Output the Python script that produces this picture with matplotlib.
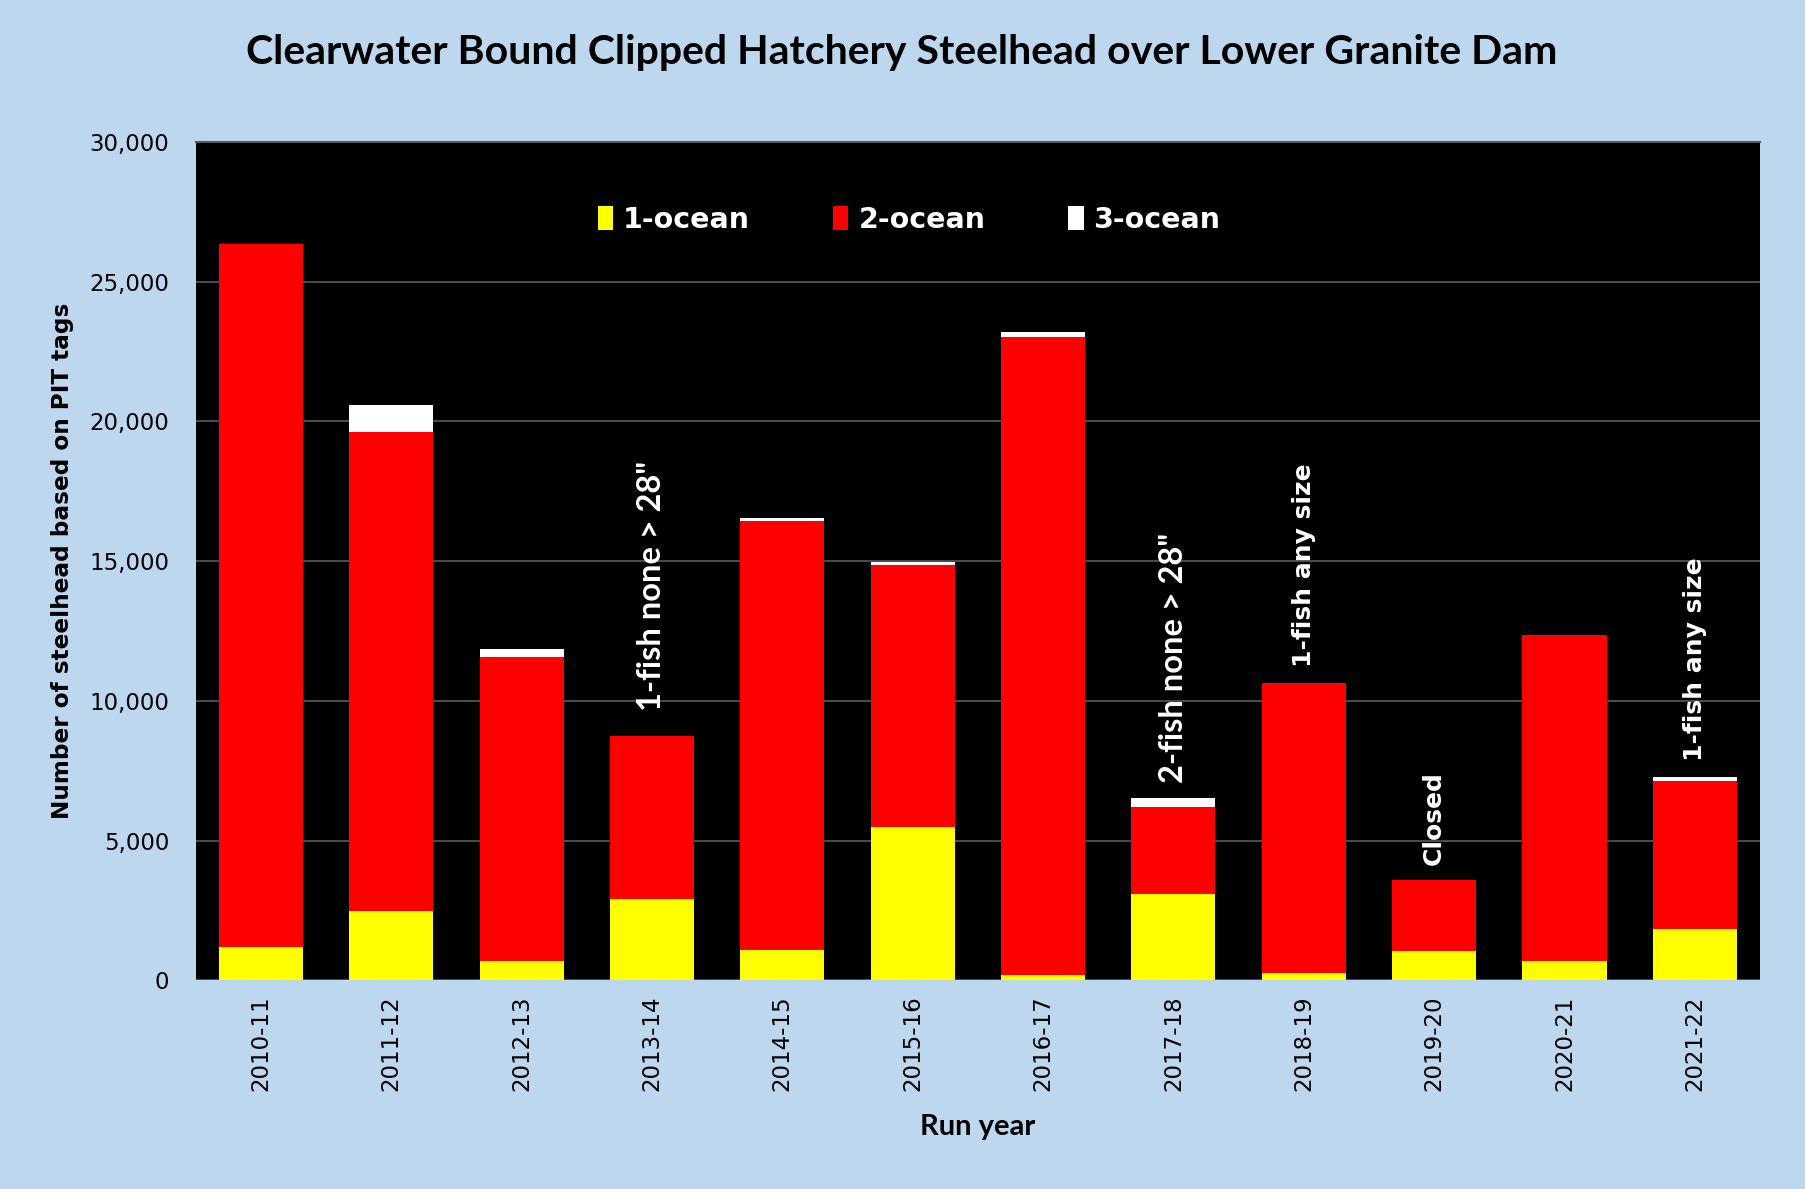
import matplotlib.pyplot as plt
import numpy as np
from matplotlib.ticker import FuncFormatter

years = ['2010-11', '2011-12', '2012-13', '2013-14', '2014-15', '2015-16',
         '2016-17', '2017-18', '2018-19', '2019-20', '2020-21', '2021-22']
ocean1 = [1200, 2500, 700, 2900, 1100, 5500, 200, 3100, 250, 1050, 700, 1850]
ocean2 = [25130, 17100, 10880, 5850, 15350, 9370, 22800, 3120, 10400, 2530, 11660, 5280]
ocean3 = [0, 1000, 290, 0, 80, 80, 200, 290, 0, 0, 0, 160]

notes = {3: '1-fish none > 28"', 7: '2-fish none > 28"', 8: '1-fish any size',
         9: 'Closed', 11: '1-fish any size'}

bg = '#bdd7ee'
fig = plt.figure(figsize=(18.06, 11.89), dpi=100, facecolor=bg)
ax = fig.add_axes([0.1084, 0.1754, 0.8661, 0.7054])
ax.set_facecolor('black')

x = np.arange(len(years))
b1 = np.array(ocean1)
b2 = np.array(ocean2)
b3 = np.array(ocean3)
w = 0.646
ax.bar(x, b1, w, color='#ffff00', label='1-ocean', zorder=3)
ax.bar(x, b2, w, bottom=b1, color='#ff0000', label='2-ocean', zorder=3)
ax.bar(x, b3, w, bottom=b1 + b2, color='white', label='3-ocean', zorder=3)

ax.set_xlim(-0.5, len(years) - 0.5)
ax.set_ylim(0, 30000)
ax.set_yticks(range(0, 30001, 5000))
ax.yaxis.set_major_formatter(FuncFormatter(lambda v, p: f'{int(v):,}'))
ax.set_xticks(x)
ax.set_xticklabels(years, rotation=90)
ax.grid(axis='y', color='#595959', linewidth=1.2, zorder=0)
ax.tick_params(axis='y', length=0, pad=19, labelsize=16.5)
ax.tick_params(axis='x', length=0, pad=11, labelsize=16.5)
for s in ax.spines.values():
    s.set_visible(False)
ax.spines['top'].set_visible(True)
ax.spines['top'].set_color('#595959')
ax.spines['top'].set_linewidth(1.5)

totals = b1 + b2 + b3
for i, txt in notes.items():
    fam = 'Lato' if 'none' in txt else 'DejaVu Sans'
    size = 23.5 if 'none' in txt else 18
    off = 18 if i == 3 else 11
    ax.annotate(txt, (x[i], totals[i]), xytext=(0, off), textcoords='offset points',
                rotation=90, ha='center', va='bottom', color='white',
                fontweight='bold', family=fam, fontsize=size, zorder=5)

leg = ax.legend(loc='center', bbox_to_anchor=(0.456, 0.9066), ncol=3, frameon=False,
                handlelength=0.55, handleheight=0.9, handletextpad=0.35,
                columnspacing=2.9, prop={'weight': 'bold', 'size': 20.5})
for t in leg.get_texts():
    t.set_color('white')

ax.set_ylabel('Number of steelhead based on PIT tags', fontsize=16.7, fontweight='bold')
ax.yaxis.set_label_coords(-0.078, 0.5)
ax.set_xlabel('Run year', fontsize=21, fontweight='bold', family='Lato')
ax.xaxis.set_label_coords(0.5, -0.159)

fig.text(0.499, 0.956, 'Clearwater Bound Clipped Hatchery Steelhead over Lower Granite Dam',
         ha='center', va='center', fontsize=29.5, fontweight='bold', family='Lato')

fig.savefig('out.png', dpi=100, facecolor=bg)
